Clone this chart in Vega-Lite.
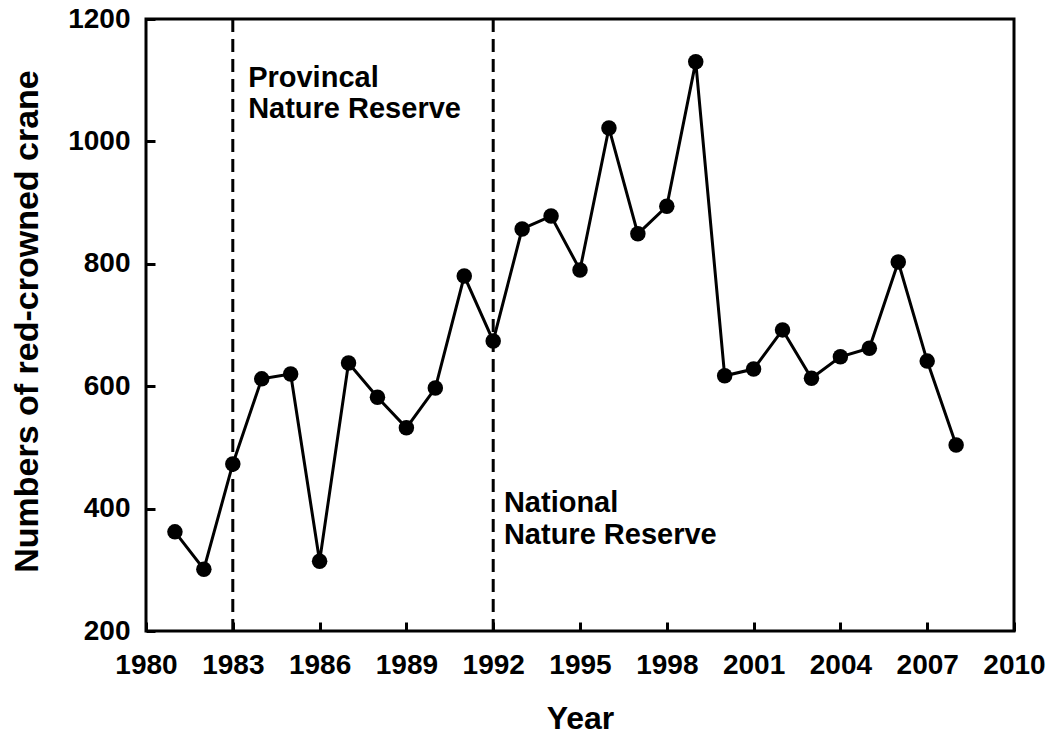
{
  "$schema": "https://vega.github.io/schema/vega-lite/v6.json",
  "autosize": {"type": "none"},
  "padding": {"left": 146, "top": 19, "right": 34, "bottom": 103},
  "width": 868,
  "height": 612,
  "background": "white",
  "config": {
    "view": {"stroke": "black", "strokeWidth": 3},
    "font": "Liberation Sans",
    "axis": {
      "domain": false,
      "grid": false,
      "ticks": true,
      "tickColor": "black",
      "tickWidth": 3,
      "tickSize": -9,
      "labelOverlap": false,
      "labelFlush": false,
      "labelFont": "Liberation Sans",
      "labelFontWeight": "bold",
      "labelFontSize": 28,
      "labelColor": "black",
      "titleFont": "Liberation Sans",
      "titleFontWeight": "bold",
      "titleColor": "black"
    }
  },
  "datasets": {
    "cranes": [
      {"year": 1981, "count": 362},
      {"year": 1982, "count": 301},
      {"year": 1983, "count": 473},
      {"year": 1984, "count": 612},
      {"year": 1985, "count": 620},
      {"year": 1986, "count": 314},
      {"year": 1987, "count": 638},
      {"year": 1988, "count": 582},
      {"year": 1989, "count": 532},
      {"year": 1990, "count": 597},
      {"year": 1991, "count": 780},
      {"year": 1992, "count": 674},
      {"year": 1993, "count": 857},
      {"year": 1994, "count": 878},
      {"year": 1995, "count": 790},
      {"year": 1996, "count": 1022},
      {"year": 1997, "count": 849},
      {"year": 1998, "count": 894},
      {"year": 1999, "count": 1130},
      {"year": 2000, "count": 617},
      {"year": 2001, "count": 628},
      {"year": 2002, "count": 692},
      {"year": 2003, "count": 613},
      {"year": 2004, "count": 648},
      {"year": 2005, "count": 662},
      {"year": 2006, "count": 803},
      {"year": 2007, "count": 641},
      {"year": 2008, "count": 504}
    ],
    "events": [
      {"year": 1983},
      {"year": 1992}
    ],
    "labels": [
      {"year": 1983.53, "count": 1089, "text": "Provincal"},
      {"year": 1983.53, "count": 1038, "text": "Nature Reserve"},
      {"year": 1992.37, "count": 394, "text": "National"},
      {"year": 1992.37, "count": 342, "text": "Nature Reserve"}
    ]
  },
  "layer": [
    {
      "data": {"name": "events"},
      "mark": {"type": "rule", "color": "black", "strokeWidth": 3, "strokeDash": [13, 7]},
      "encoding": {
        "x": {"field": "year", "type": "quantitative", "scale": {"domain": [1980, 2010], "nice": false}}
      }
    },
    {
      "data": {"name": "cranes"},
      "mark": {"type": "line", "color": "black", "strokeWidth": 3},
      "encoding": {
        "x": {
          "field": "year", "type": "quantitative",
          "scale": {"domain": [1980, 2010], "nice": false, "zero": false},
          "axis": {
            "values": [1980, 1983, 1986, 1989, 1992, 1995, 1998, 2001, 2004, 2007, 2010],
            "format": "d",
            "title": "Year",
            "titleFontSize": 32,
            "labelBaseline": "alphabetic",
            "labelPadding": 51,
            "titleY": 97,
            "titleBaseline": "alphabetic"
          }
        },
        "y": {
          "field": "count", "type": "quantitative",
          "scale": {"domain": [200, 1200], "nice": false, "zero": false},
          "axis": {
            "values": [200, 400, 600, 800, 1000, 1200],
            "format": "d",
            "title": "Numbers of red-crowned crane",
            "titleFontSize": 34,
            "labelPadding": 25,
            "titleX": -109,
            "titleY": 302,
            "titleBaseline": "alphabetic",
            "titleAlign": "center"
          }
        }
      }
    },
    {
      "data": {"name": "cranes"},
      "mark": {"type": "point", "filled": true, "color": "black", "opacity": 1, "size": 240},
      "encoding": {
        "x": {"field": "year", "type": "quantitative"},
        "y": {"field": "count", "type": "quantitative"}
      }
    },
    {
      "data": {"name": "labels"},
      "mark": {"type": "text", "align": "left", "baseline": "alphabetic", "fontSize": 29, "fontWeight": "bold", "font": "Liberation Sans", "color": "black"},
      "encoding": {
        "x": {"field": "year", "type": "quantitative"},
        "y": {"field": "count", "type": "quantitative"},
        "text": {"field": "text"}
      }
    }
  ]
}
